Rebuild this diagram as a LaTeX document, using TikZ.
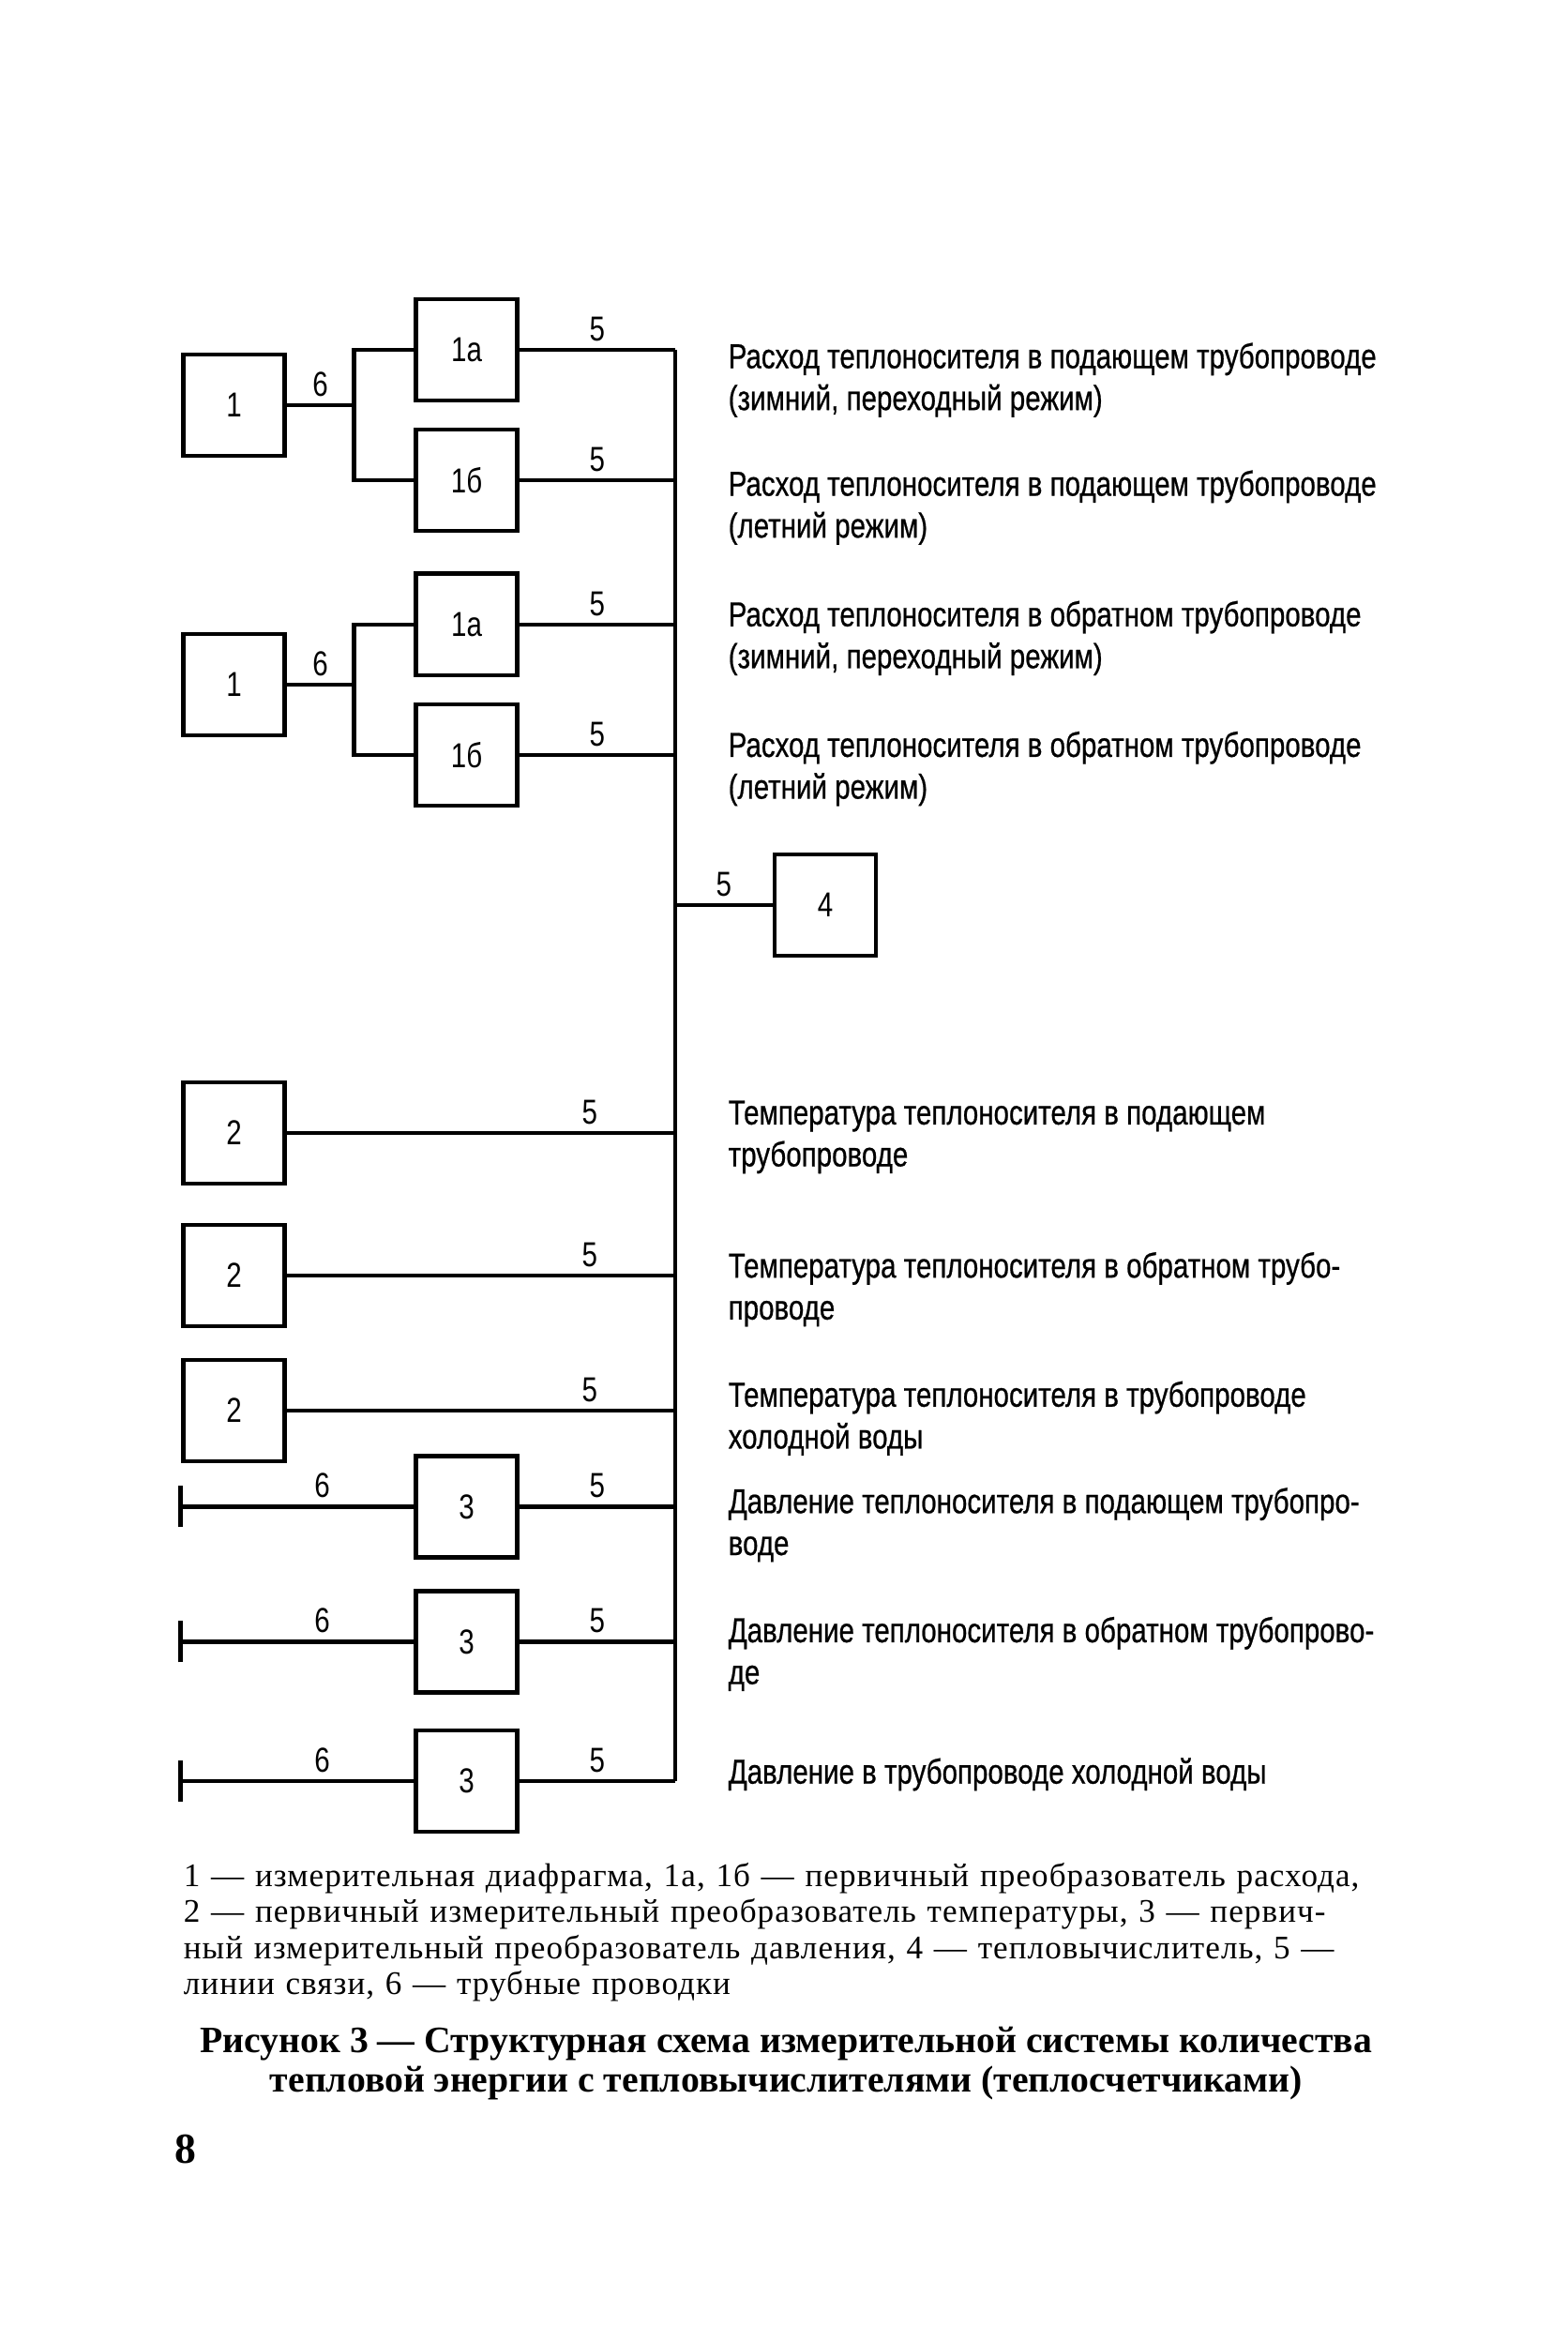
\documentclass[tikz,border=0pt]{standalone}
\usepackage{fontspec}
\setmainfont{Liberation Serif}
\newfontfamily\narrowsans[FakeStretch=0.8]{Liberation Sans}
\newfontfamily\narrowdark[FakeStretch=0.8,FakeBold=0.6]{Liberation Sans}
\newfontfamily\legendserif[LetterSpace=3]{Liberation Serif}
\usepackage{tikz}
\usetikzlibrary{arrows.meta}
\usetikzlibrary{positioning,calc}
\tikzset{unit/.style={rectangle,draw,line width=1.2pt,minimum width=1.08cm,minimum height=1.08cm,inner sep=0pt,
		         font=\narrowsans\fontsize{10.5}{12}\selectfont},
		edgeT/.style={line width=1.2pt},
		busT/.style={line width=1.1pt},
		tapT/.style={{Bar[width=4.4mm,line width=1.2pt]}-,line width=1.2pt},
		tagT/.style={font=\narrowsans\fontsize{10.5}{12}\selectfont,inner sep=2pt},
		descr/.style={anchor=north west,align=left,inner sep=0pt,
		         font=\narrowdark\fontsize{10.5}{12.7}\selectfont},
		legend/.style={anchor=north west,inner sep=0pt,text width=12.74cm,
		         font=\legendserif\fontsize{10}{10.9}\selectfont},
		caption/.style={anchor=north,align=center,inner sep=0pt,
		         font=\bfseries\fontsize{11.3}{12.2}\selectfont}}
\begin{document}
\begin{tikzpicture}[x=0.16mm,y=-0.16mm]
	\useasboundingbox (0,0) rectangle (1045,1560);
	% flow, supply pipe
	\node at (156,270) [unit] (d1){1};
	\node at (311,233) [unit] (s1a){1а};
	\node at (311,320) [unit] (s1b){1б};
	% flow, return pipe
	\node at (156,456) [unit] (d2){1};
	\node at (311,416) [unit] (r1a){1а};
	\node at (311,503) [unit] (r1b){1б};
	% heat calculator
	\node at (550,603) [unit] (calc){4};
	% temperature
	\node at (156,755) [unit] (t1){2};
	\node at (156,850) [unit] (t2){2};
	\node at (156,940) [unit] (t3){2};
	% pressure
	\node at (311,1004) [unit] (p1){3};
	\node at (311,1094) [unit] (p2){3};
	\node at (311,1187) [unit] (p3){3};
	% junctions and bus taps
	\coordinate (j1) at (236,270);
	\coordinate (j2) at (236,456);
	\coordinate (e1) at (119,1004);
	\coordinate (e2) at (119,1094);
	\coordinate (e3) at (119,1187);
	\coordinate (bs1a) at (450,233);
	\coordinate (bs1b) at (450,320);
	\coordinate (br1a) at (450,416);
	\coordinate (br1b) at (450,503);
	\coordinate (bcalc) at (450,603);
	\coordinate (bt1) at (450,755);
	\coordinate (bt2) at (450,850);
	\coordinate (bt3) at (450,940);
	\coordinate (bp1) at (450,1004);
	\coordinate (bp2) at (450,1094);
	\coordinate (bp3) at (450,1187);

	\draw[busT] (bs1a) -- (bp3);
	\draw[edgeT] (d1.east) -- node[tagT,above]{6} (j1);
	\draw[edgeT] (s1a.west) -| (j1) |- (s1b.west);
	\draw[edgeT] (d2.east) -- node[tagT,above]{6} (j2);
	\draw[edgeT] (r1a.west) -| (j2) |- (r1b.west);
	\draw[edgeT] (s1a.east) -- node[tagT,above]{5} (bs1a);
	\draw[edgeT] (s1b.east) -- node[tagT,above]{5} (bs1b);
	\draw[edgeT] (r1a.east) -- node[tagT,above]{5} (br1a);
	\draw[edgeT] (r1b.east) -- node[tagT,above]{5} (br1b);
	\draw[edgeT] (bcalc) -- node[tagT,above]{5} (calc.west);
	\draw[edgeT] (t1.east) -- node[tagT,above,pos=0.78]{5} (bt1);
	\draw[edgeT] (t2.east) -- node[tagT,above,pos=0.78]{5} (bt2);
	\draw[edgeT] (t3.east) -- node[tagT,above,pos=0.78]{5} (bt3);
	\draw[tapT] (e1) -- node[tagT,above,pos=0.61]{6} (p1.west);
	\draw[tapT] (e2) -- node[tagT,above,pos=0.61]{6} (p2.west);
	\draw[tapT] (e3) -- node[tagT,above,pos=0.61]{6} (p3.west);
	\draw[edgeT] (p1.east) -- node[tagT,above]{5} (bp1);
	\draw[edgeT] (p2.east) -- node[tagT,above]{5} (bp2);
	\draw[edgeT] (p3.east) -- node[tagT,above]{5} (bp3);

	% descriptions
	\node at (485,228) [descr] (q1){Расход теплоносителя в подающем трубопроводе\\(зимний, переходный режим)};
	\node at (485,313) [descr] (q2){Расход теплоносителя в подающем трубопроводе\\(летний режим)};
	\node at (485,400) [descr] (q3){Расход теплоносителя в обратном трубопроводе\\(зимний, переходный режим)};
	\node at (485,487) [descr] (q4){Расход теплоносителя в обратном трубопроводе\\(летний режим)};
	\node at (485,733) [descr] (tt1){Температура теплоносителя в подающем\\трубопроводе};
	\node at (485,834) [descr] (tt2){Температура теплоносителя в обратном трубо-\\проводе};
	\node at (485,920) [descr] (tt3){Температура теплоносителя в трубопроводе\\холодной воды};
	\node at (485,991) [descr] (pp1){Давление теплоносителя в подающем трубопро-\\воде};
	\node at (485,1077) [descr] (pp2){Давление теплоносителя в обратном трубопрово-\\де};
	\node at (485,1171) [descr] (pp3){Давление в трубопроводе холодной воды};

	% legend and caption
	\node at (122,1241) [legend] (key){1 — измерительная диафрагма, 1а, 1б — первичный преобразователь расхода,\linebreak
		2 — первичный измерительный преобразователь температуры, 3 — первич-\linebreak
		ный измерительный преобразователь давления, 4 — тепловычислитель, 5 —\linebreak
		линии связи, 6 — трубные проводки};
	\node at (524,1350) [caption] (cap){Рисунок 3 — Структурная схема измерительной системы количества\\
		тепловой энергии с тепловычислителями (теплосчетчиками)};
	\node at (124,1432) [font=\bfseries\fontsize{13}{14}\selectfont] (pg){8};
\end{tikzpicture}
\end{document}
